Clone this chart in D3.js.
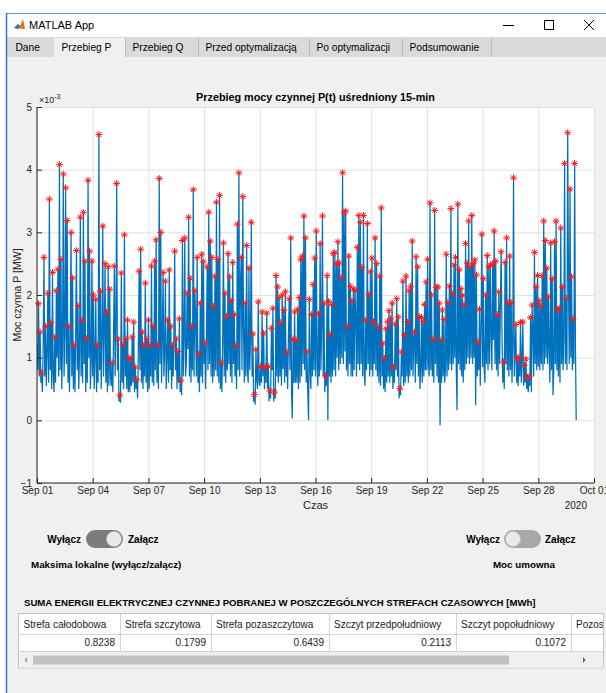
<!DOCTYPE html>
<html lang="pl">
<head>
<meta charset="utf-8" />
<title>MATLAB App</title>
<script src="https://d3js.org/d3.v7.min.js"></script>
<style>
  body { margin: 0; background: #fff; overflow: hidden; }
  text { font-family: "Liberation Sans", Arial, sans-serif; }
</style>
</head>
<body>
<script>

// P(t), one value per hour from Sep 01 00:00 [MW, x1e-3]
var power = [
  1.22, 0.8, 1.86, 0.7, 1.41, 0.6, 0.76, 0.45, 1.2, 2.6, 0.7, 1.5, 0.55, 1.1, 2.03, 0.6, 3.53, 0.8, 1.56, 0.5, 2.36, 0.7, 0.45, 1.33,
  0.6, 2.07, 1.0, 2.41, 0.7, 4.08, 0.8, 2.57, 0.5, 1.2, 3.93, 0.7, 1.4, 3.71, 0.9, 3.19, 0.6, 1.5, 0.45, 1.3, 3.0, 0.7, 2.27, 0.5,
  1.2, 0.45, 1.4, 2.71, 0.8, 1.83, 0.5, 1.1, 3.24, 0.7, 1.6, 0.6, 3.32, 0.9, 2.54, 0.45, 1.3, 0.6, 3.83, 1.0, 2.7, 0.5, 0.9, 2.54,
  0.7, 2.0, 0.5, 1.0, 1.93, 0.45, 1.2, 0.6, 4.56, 0.8, 2.06, 0.5, 1.3, 3.1, 0.7, 1.4, 2.5, 0.6, 1.73, 0.45, 2.45, 0.55, 2.09, 0.7,
  0.55, 0.92, 0.45, 1.4, 2.46, 0.7, 1.5, 3.78, 0.8, 1.3, 0.3, 0.4, 0.28, 2.35, 0.6, 1.2, 0.5, 2.96, 0.7, 1.3, 0.5, 1.6, 0.45, 1.0,
  0.45, 0.98, 0.55, 1.33, 0.6, 1.57, 0.45, 0.85, 0.5, 0.65, 0.35, 1.1, 2.38, 0.8, 2.73, 0.6, 1.41, 0.5, 1.2, 0.7, 2.19, 0.6, 1.3, 0.45,
  1.6, 0.5, 1.2, 0.7, 2.46, 0.6, 1.5, 0.55, 2.54, 0.8, 2.88, 0.6, 1.2, 0.5, 3.86, 0.9, 3.0, 0.6, 1.3, 2.36, 0.7, 1.1, 2.22, 0.5,
  1.0, 1.6, 0.6, 2.4, 0.8, 1.5, 0.5, 1.2, 0.7, 1.4, 2.7, 0.8, 1.3, 0.5, 1.1, 0.6, 1.62, 0.45, 0.64, 0.4, 2.87, 0.7, 1.3, 2.91,
  0.7, 0.9, 2.03, 1.14, 3.24, 0.7, 2.27, 0.6, 1.5, 0.8, 3.68, 0.7, 2.07, 1.68, 0.7, 2.6, 0.6, 1.06, 0.45, 1.87, 0.7, 2.65, 0.6, 2.53,
  0.9, 1.24, 0.5, 1.3, 2.45, 0.8, 3.32, 0.9, 2.86, 0.7, 2.6, 0.6, 1.82, 0.7, 2.3, 0.8, 3.48, 0.7, 2.57, 0.6, 3.59, 0.5, 0.92, 0.45,
  1.3, 2.83, 0.7, 2.03, 0.6, 1.66, 0.8, 2.66, 0.9, 2.29, 0.7, 1.91, 0.6, 2.52, 0.9, 1.69, 0.7, 1.19, 0.5, 3.13, 0.8, 3.95, 0.7, 2.19,
  2.6, 0.8, 3.57, 1.4, 0.6, 1.87, 0.7, 2.79, 0.8, 0.6, 2.43, 0.8, 1.3, 3.16, 0.7, 1.38, 0.3, 0.41, 0.25, 1.13, 0.66, 0.5, 1.89, 0.6,
  0.55, 0.86, 0.6, 1.73, 0.7, 1.39, 0.5, 0.85, 0.6, 1.71, 0.5, 0.86, 0.3, 0.47, 0.35, 1.47, 0.8, 1.79, 0.3, 0.45, 0.35, 2.31, 0.7, 2.13,
  0.6, 1.96, 0.7, 1.56, 0.55, 2.0, 0.82, 1.76, 0.6, 2.05, 0.7, 1.09, 0.5, 1.33, 1.94, 0.8, 2.91, 0.45, 0.03, 1.3, 0.6, 1.73, 0.6, 1.28,
  0.6, 1.77, 0.5, 1.96, 0.6, 2.57, 0.7, 2.62, 0.9, 3.26, 0.8, 2.91, 0.6, 1.1, 0.45, 0.0, 1.93, 0.78, 0.5, 1.69, 0.7, 2.17, 0.8, 2.59,
  0.7, 3.02, 0.9, 0.55, 1.7, 0.7, 2.82, 0.8, 1.5, 3.26, 0.7, 1.87, 0.45, 0.71, 0.55, 2.31, 0.0, 1.9, 0.7, 1.37, 0.6, 1.85, 0.7, 2.66,
  0.8, 2.68, 0.7, 2.5, 1.0, 2.85, 0.8, 2.51, 0.9, 2.28, 1.0, 3.95, 0.9, 3.32, 1.1, 3.34, 0.8, 1.5, 0.7, 2.62, 0.9, 2.14, 0.7, 1.91,
  0.7, 2.09, 0.8, 2.08, 1.64, 0.7, 2.76, 0.9, 3.27, 0.8, 3.16, 0.9, 2.44, 0.7, 3.27, 0.77, 0.55, 1.6, 0.8, 3.14, 0.9, 2.01, 0.7, 2.37,
  0.8, 2.59, 0.7, 1.57, 0.9, 2.91, 0.8, 2.5, 0.7, 1.49, 0.6, 2.3, 0.55, 3.39, 0.7, 1.23, 0.5, 0.99, 0.45, 1.46, 0.6, 1.57, 0.7, 1.75,
  0.6, 1.62, 0.7, 1.87, 0.5, 0.85, 0.6, 1.54, 0.8, 1.94, 0.7, 1.65, 0.35, 0.51, 0.4, 1.09, 0.7, 2.22, 0.55, 1.36, 0.6, 2.3, 0.7, 1.57,
  0.6, 2.07, 0.7, 2.14, 0.8, 2.86, 0.7, 1.3, 1.41, 0.6, 2.61, 0.9, 2.45, 0.7, 1.66, 0.5, 0.8, 1.64, 0.6, 1.58, 0.7, 1.85, 0.8, 2.21,
  0.8, 2.57, 0.9, 0.7, 3.47, 0.8, 2.0, 0.7, 1.3, 0.6, 3.35, 0.9, 2.12, 0.7, 2.13, 0.6, 1.87, -0.08, 1.28, 0.6, 1.76, 0.7, 1.61, 0.6,
  0.81, 2.65, 0.7, 1.88, 0.8, 2.14, 0.9, 3.38, 0.8, 2.02, 0.9, 2.48, 1.0, 2.6, 0.8, 0.16, 3.45, 0.9, 2.4, 0.8, 2.1, 0.7, 1.99, 0.6,
  1.85, 0.8, 2.82, 0.9, 2.51, 1.0, 3.18, 0.9, 2.45, 1.0, 3.27, 0.9, 2.5, 1.0, 2.56, 0.24, 2.32, 0.7, 1.25, 0.8, 1.77, 0.55, 1.5, 2.97,
  0.85, 2.26, 0.85, 0.6, 2.0, 0.9, 2.63, 0.8, 2.45, 0.9, 2.47, 1.42, 0.8, 2.5, 1.28, 3.02, 0.9, 2.54, 0.8, 1.69, 0.7, 2.05, 0.9, 1.89,
  2.69, 1.44, 0.6, 0.93, 0.5, 2.52, 0.9, 2.91, 0.8, 1.88, 0.7, 2.62, 0.8, 1.88, 0.6, 1.2, 3.87, 0.7, 1.1, 1.53, 0.6, 0.98, 0.55, 1.01,
  0.7, 1.56, 0.6, 1.0, 1.57, 0.55, 0.88, 0.6, 0.98, 0.5, 0.69, 0.45, 0.7, 0.55, 1.64, 0.45, 1.84, 1.44, 0.7, 2.68, 0.9, 2.13, 0.8, 2.31,
  0.86, 1.91, 0.8, 1.82, 0.9, 2.31, 0.8, 3.18, 0.9, 2.87, 1.0, 2.43, 0.9, 1.97, 1.13, 0.6, 2.83, 0.8, 2.26, 0.4, 0.8, 2.85, 0.9, 3.18,
  0.8, 1.77, 0.7, 1.79, 0.6, 3.07, 0.9, 2.13, 0.8, 1.3, 4.1, 0.9, 1.95, 0.8, 4.59, 2.29, 0.9, 3.69, 1.0, 2.29, 0.8, 1.62, 0.9, 4.1,
  1.2, 0.0
];

var yTicks = [-1, 0, 1, 2, 3, 4, 5];
var tabs = ["Dane", "Przebieg P", "Przebieg Q", "Przed optymalizacją", "Po optymalizacji", "Podsumowanie"];
var tableHeaders = ["Strefa całodobowa", "Strefa szczytowa", "Strefa pozaszczytowa", "Szczyt przedpołudniowy", "Szczyt popołudniowy", "Pozostałe godziny"];
var tableValues = [0.8238, 0.1799, 0.6439, 0.2113, 0.1072];

// layout
var W = 606, H = 693;
var plot = {left: 37, right: 594, top: 107, bottom: 483};
var tabEdges = [8, 54, 125, 198, 309, 402, 491];
var colEdges = [18.5, 120, 211, 329, 456, 571, 690];
var axisColor = "#262626";

var svg = d3.select("body").append("svg")
  .attr("width", W)
  .attr("height", H);

svg.append("rect").attr("width", W).attr("height", H).attr("fill", "#fff");

// window frame
svg.append("rect").attr("x", 7).attr("y", 57).attr("width", W - 7).attr("height", H - 57).attr("fill", "#f0f0f0");
svg.append("rect").attr("x", 7).attr("y", 37).attr("width", W - 7).attr("height", 20).attr("fill", "#dadada");
svg.append("line").attr("x1", 6.5).attr("x2", W).attr("y1", 13.5).attr("y2", 13.5).attr("stroke", "#5d9bd3");
svg.append("line").attr("x1", 6.5).attr("x2", 6.5).attr("y1", 13).attr("y2", H).attr("stroke", "#2b7cc9").attr("stroke-width", 1.5);

// title bar
var icon = svg.append("g").attr("transform", "translate(14,19)");
icon.append("path").attr("d", "M0,9 L4,5 L6,7 L9,0 L11,10 Z").attr("fill", "#e0731d");
icon.append("path").attr("d", "M0,9 L4,5 L6,7 L4,10 Z").attr("fill", "#2d73b8");
svg.append("text").attr("x", 29).attr("y", 29).attr("font-size", 11).attr("fill", "#000").text("MATLAB App");
svg.append("line").attr("x1", 503).attr("x2", 514).attr("y1", 25.5).attr("y2", 25.5).attr("stroke", "#000");
svg.append("rect").attr("x", 544.5).attr("y", 20.5).attr("width", 9).attr("height", 9).attr("fill", "none").attr("stroke", "#000");
svg.append("path").attr("d", "M584,20 L594,30 M594,20 L584,30").attr("stroke", "#000").attr("stroke-width", 1);

// tabs
tabs.forEach(function (t, i) {
  var x0 = tabEdges[i], x1 = tabEdges[i + 1];
  if (i === 1) {
    svg.append("rect").attr("x", x0).attr("y", 38).attr("width", x1 - x0).attr("height", 20).attr("fill", "#f0f0f0");
  }
  svg.append("line").attr("x1", x1 + 0.5).attr("x2", x1 + 0.5).attr("y1", 38).attr("y2", 57)
    .attr("stroke", "#bdbdbd");
  svg.append("text").attr("x", x0 + 7.5).attr("y", 51).attr("font-size", 10.2).attr("fill", "#000").text(t);
});

// ----- chart -----
var x = d3.scaleUtc()
  .domain([new Date(Date.UTC(2020, 8, 1)), new Date(Date.UTC(2020, 9, 1))])
  .range([plot.left, plot.right]);

var y = d3.scaleLinear()
  .domain([-1, 5])
  .range([plot.bottom, plot.top]);

var t0 = Date.UTC(2020, 8, 1);
var series = power.map(function (v, i) { return {t: new Date(t0 + i * 3600e3), v: v}; });

svg.append("rect")
  .attr("x", plot.left).attr("y", plot.top)
  .attr("width", plot.right - plot.left).attr("height", plot.bottom - plot.top)
  .attr("fill", "#fff");

var xTicks = x.ticks(d3.utcDay.every(3));

// grid
svg.append("g")
  .attr("transform", `translate(0,${plot.bottom})`)
  .call(d3.axisBottom(x).tickValues(xTicks).tickSize(-(plot.bottom - plot.top)).tickFormat(""))
  .call(g => g.select(".domain").remove())
  .call(g => g.selectAll("line").attr("stroke", "#e1e1e1"));

svg.append("g")
  .attr("transform", `translate(${plot.left},0)`)
  .call(d3.axisLeft(y).tickValues(yTicks).tickSize(-(plot.right - plot.left)).tickFormat(""))
  .call(g => g.select(".domain").remove())
  .call(g => g.selectAll("line").attr("stroke", "#e1e1e1"));

svg.append("clipPath").attr("id", "clip")
  .append("rect")
  .attr("x", plot.left).attr("y", plot.top)
  .attr("width", plot.right - plot.left).attr("height", plot.bottom - plot.top);

var line = d3.line()
  .x(d => x(d.t))
  .y(d => y(d.v));

svg.append("path")
  .datum(series)
  .attr("clip-path", "url(#clip)")
  .attr("fill", "none")
  .attr("stroke", "#0072bd")
  .attr("stroke-width", 1.25)
  .attr("d", line);

// local maxima (as the app marks them)
var peaks = series.filter(function (d, i) {
  return i > 0 && i < series.length - 1 && d.v > series[i - 1].v && d.v >= series[i + 1].v;
});

var r = 3.4, q = r * 0.7;
var star = `M${-r},0H${r}M0,${-r}V${r}M${-q},${-q}L${q},${q}M${-q},${q}L${q},${-q}`;

svg.append("g")
  .selectAll("path")
  .data(peaks)
  .join("path")
    .attr("transform", d => `translate(${x(d.t)},${y(d.v)})`)
    .attr("d", star)
    .attr("fill", "none")
    .attr("stroke", "#ff1a1a")
    .attr("stroke-width", 1);

// axes
var xAxis = svg.append("g")
  .attr("transform", `translate(0,${plot.bottom})`)
  .call(d3.axisBottom(x).tickValues(xTicks).tickSize(-5).tickPadding(4)
    .tickFormat(d3.utcFormat("%b %d")));

var yAxis = svg.append("g")
  .attr("transform", `translate(${plot.left},0)`)
  .call(d3.axisLeft(y).tickValues(yTicks).tickSize(-5).tickPadding(5)
    .tickFormat(d3.format("d")));

[xAxis, yAxis].forEach(function (g) {
  g.select(".domain").attr("stroke", axisColor);
  g.selectAll(".tick line").attr("stroke", axisColor);
  g.selectAll(".tick text")
    .attr("fill", axisColor)
    .attr("font-size", 10)
    .attr("font-family", "Liberation Sans, Arial, sans-serif");
});
xAxis.select(".domain").attr("d", `M${plot.left},0H${plot.right}`);
yAxis.select(".domain").attr("d", `M0,${plot.bottom}V${plot.top}`);

var exp = svg.append("text")
  .attr("x", 39).attr("y", 103)
  .attr("font-size", 9).attr("fill", axisColor);
exp.append("tspan").text("×10");
exp.append("tspan").attr("dy", -4).attr("font-size", 7).text("-3");

svg.append("text")
  .attr("x", (plot.left + plot.right) / 2).attr("y", 101)
  .attr("text-anchor", "middle").attr("font-size", 10.8).attr("font-weight", "bold")
  .attr("fill", "#000")
  .text("Przebieg mocy czynnej P(t) uśredniony 15-min");

svg.append("text")
  .attr("transform", "translate(21,295) rotate(-90)")
  .attr("text-anchor", "middle").attr("font-size", 10.5).attr("fill", axisColor)
  .text("Moc czynna P [MW]");

svg.append("text")
  .attr("x", (plot.left + plot.right) / 2).attr("y", 509)
  .attr("text-anchor", "middle").attr("font-size", 11).attr("fill", axisColor)
  .text("Czas");

svg.append("text")
  .attr("x", 587).attr("y", 509)
  .attr("text-anchor", "end").attr("font-size", 10).attr("fill", axisColor)
  .text("2020");

// ----- switches -----
function toggle(cx, on) {
  var g = svg.append("g").attr("transform", `translate(${cx},530)`);
  g.append("rect").attr("width", 37).attr("height", 18).attr("rx", 9)
    .attr("fill", on ? "#7c7c7c" : "#a8a8a8");
  g.append("circle").attr("cx", on ? 28 : 9).attr("cy", 9).attr("r", 7.5)
    .attr("fill", "#e9e9e9").attr("stroke", "#c4c4c4").attr("stroke-width", 0.6);
}
toggle(86, true);
toggle(504, false);

var lbl = [["Wyłącz", 81, "end"], ["Załącz", 128, "start"], ["Wyłącz", 500, "end"], ["Załącz", 545, "start"]];
lbl.forEach(function (d) {
  svg.append("text").attr("x", d[1]).attr("y", 543).attr("text-anchor", d[2])
    .attr("font-size", 10).attr("font-weight", "bold").attr("fill", "#000").text(d[0]);
});
svg.append("text").attr("x", 31).attr("y", 568).attr("font-size", 9.8).attr("font-weight", "bold")
  .text("Maksima lokalne (wyłącz/załącz)");
svg.append("text").attr("x", 555).attr("y", 568).attr("text-anchor", "end")
  .attr("font-size", 9.8).attr("font-weight", "bold").text("Moc umowna");

// ----- table -----
svg.append("text").attr("x", 24).attr("y", 606).attr("font-size", 9.6).attr("font-weight", "bold")
  .text("SUMA ENERGII ELEKTRYCZNEJ CZYNNEJ POBRANEJ W POSZCZEGÓLNYCH STREFACH CZASOWYCH [MWh]");

svg.append("clipPath").attr("id", "tclip")
  .append("rect").attr("x", 18).attr("y", 612).attr("width", 585).attr("height", 58);

var tbl = svg.append("g").attr("clip-path", "url(#tclip)");
tbl.append("rect").attr("x", 18.5).attr("y", 613.5).attr("width", 700).attr("height", 54.5)
  .attr("fill", "#fff").attr("stroke", "#c6c6c6");
tbl.append("rect").attr("x", 19).attr("y", 651.5).attr("width", 700).attr("height", 16)
  .attr("fill", "#f0f0f0");
tbl.append("line").attr("x1", 18).attr("x2", 720).attr("y1", 634.5).attr("y2", 634.5).attr("stroke", "#d4d4d4");
tbl.append("line").attr("x1", 18).attr("x2", 720).attr("y1", 651.5).attr("y2", 651.5).attr("stroke", "#d4d4d4");

tableHeaders.forEach(function (h, i) {
  var x0 = colEdges[i], x1 = colEdges[i + 1];
  if (i > 0) {
    tbl.append("line").attr("x1", x0 + 0.5).attr("x2", x0 + 0.5).attr("y1", 614).attr("y2", 651)
      .attr("stroke", "#d4d4d4");
  }
  tbl.append("text").attr("x", x0 + 5).attr("y", 627.5).attr("font-size", 10).attr("fill", "#222").text(h);
  if (i < tableValues.length) {
    tbl.append("text").attr("x", x1 - 5).attr("y", 646).attr("text-anchor", "end")
      .attr("font-size", 10).attr("fill", "#222").text(d3.format(".4f")(tableValues[i]));
  }
});

// horizontal scrollbar
svg.append("rect").attr("x", 33).attr("y", 655.5).attr("width", 476).attr("height", 9)
  .attr("fill", "#c2c2c2");
svg.append("path").attr("d", "M27,657 L24.5,660 L27,663 Z").attr("fill", "#9a9a9a");
svg.append("path").attr("d", "M583,657 L585.5,660 L583,663 Z").attr("fill", "#606060");
svg.append("line").attr("x1", 603.5).attr("x2", 603.5).attr("y1", 613).attr("y2", 668).attr("stroke", "#c6c6c6");

</script>
</body>
</html>
